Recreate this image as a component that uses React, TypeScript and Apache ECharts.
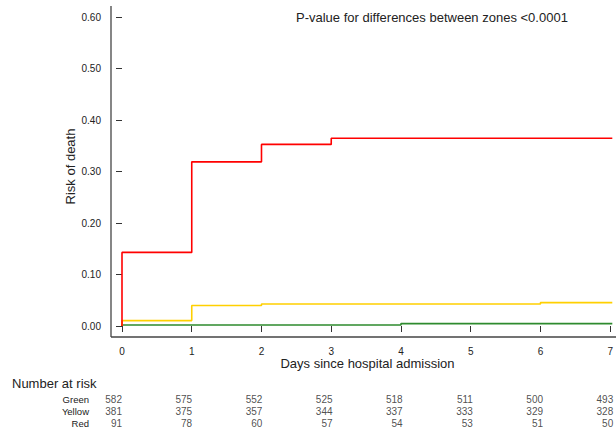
import React, { useEffect, useRef } from "react";
import * as echarts from "echarts";

// Kaplan-Meier style step curves (time in days, cumulative risk of death)
const redTimes = [0, 0, 1, 2, 3, 7.03];
const redRisk = [0, 0.143, 0.319, 0.353, 0.365, 0.365];
const yellowTimes = [0, 0, 1, 2, 6, 7.03];
const yellowRisk = [0, 0.0105, 0.0397, 0.0428, 0.0455, 0.0455];
const greenTimes = [0, 0, 4, 7.03];
const greenRisk = [0, 0.002, 0.0047, 0.0047];

// Number at risk table
const riskDays = [0, 1, 2, 3, 4, 5, 6, 7];
const riskGroups = ["Green", "Yellow", "Red"];
const atRiskGreen = [582, 575, 552, 525, 518, 511, 500, 493];
const atRiskYellow = [381, 375, 357, 344, 337, 333, 329, 328];
const atRiskRed = [91, 78, 60, 57, 54, 53, 51, 50];

const yTicks = ["0.00", "0.10", "0.20", "0.30", "0.40", "0.50", "0.60"];

const FONT = "Liberation Sans, Arial, Helvetica, sans-serif";
const TXT = "#222";
const AXIS_OFFSET = 11;

export default function App() {
  const ref = useRef<HTMLDivElement>(null);
  useEffect(() => {
    if (!ref.current) return;
    const chart = echarts.init(ref.current, undefined, { renderer: "svg" });
    const pair = (t: number[], v: number[]) => t.map((x, i) => [x, v[i]]);
    const rows = [atRiskGreen, atRiskYellow, atRiskRed];
    const tableSeries = rows.map((arr, r) => ({
      type: "scatter",
      xAxisIndex: 1,
      yAxisIndex: 1,
      symbolSize: 1,
      itemStyle: { color: "transparent" },
      silent: true,
      label: {
        show: true,
        position: "inside",
        align: "right",
        verticalAlign: "middle",
        fontSize: 10,
        fontFamily: FONT,
        color: TXT,
        formatter: (p: any) => String(p.value[2]),
      },
      data: riskDays.map((d, i) => [d, riskGroups[r], arr[i]]),
    }));
    const stepSeries = (name: string, t: number[], v: number[], color: string, z: number) => ({
      name,
      type: "line",
      step: "end",
      xAxisIndex: 0,
      yAxisIndex: 0,
      showSymbol: false,
      symbol: "none",
      z,
      lineStyle: { color, width: 1.6 },
      data: pair(t, v),
    });
    chart.setOption({
      animation: false,
      textStyle: { fontFamily: FONT },
      title: {
        text: "P-value for differences between zones <0.0001",
        left: 296,
        top: 11,
        padding: 0,
        textStyle: { fontSize: 13, fontWeight: "normal", color: TXT, fontFamily: FONT },
      },
      grid: [
        { left: 122, right: 0, top: 7, bottom: 107 },
        { left: 122, right: 0, top: 393, height: 36 },
      ],
      xAxis: [
        {
          type: "value",
          gridIndex: 0,
          min: 0,
          max: 7.04,
          interval: 1,
          offset: AXIS_OFFSET,
          axisLine: { show: false },
          axisTick: { show: true, length: 6, lineStyle: { color: "#333", width: 1 } },
          axisLabel: {
            fontSize: 10,
            color: TXT,
            margin: 9,
            showMaxLabel: false,
            formatter: (v: number) => (Number.isInteger(v) ? String(v) : ""),
          },
          splitLine: { show: false },
          name: "Days since hospital admission",
          nameLocation: "middle",
          nameGap: 20,
          nameMoveOverlap: false,
          nameTextStyle: { fontSize: 13, color: TXT, fontFamily: FONT },
        },
        {
          type: "value",
          gridIndex: 1,
          min: 0,
          max: 7.04,
          show: false,
        },
      ],
      yAxis: [
        {
          type: "value",
          gridIndex: 0,
          min: 0,
          max: 0.62,
          interval: 0.1,
          offset: AXIS_OFFSET,
          axisLine: { show: false },
          axisTick: { show: true, length: 6, lineStyle: { color: "#333", width: 1 } },
          axisLabel: {
            fontSize: 10,
            color: TXT,
            margin: 10,
            showMaxLabel: false,
            formatter: (v: number) => {
              const i = Math.round(v * 10);
              return Math.abs(v * 10 - i) < 1e-6 ? yTicks[i] : "";
            },
          },
          splitLine: { show: false },
          name: "Risk of death",
          nameLocation: "middle",
          nameGap: 34,
          nameRotate: 90,
          nameMoveOverlap: false,
          nameTextStyle: { fontSize: 13, color: TXT, fontFamily: FONT },
        },
        {
          type: "category",
          gridIndex: 1,
          data: riskGroups,
          inverse: true,
          axisLine: { show: false },
          axisTick: { show: false },
          axisLabel: { fontSize: 9.5, color: TXT, margin: 33, fontFamily: FONT, interval: 0 },
          splitLine: { show: false },
        },
      ],
      series: [
        stepSeries("Green", greenTimes, greenRisk, "#2e8b2e", 3),
        stepSeries("Yellow", yellowTimes, yellowRisk, "#ffd000", 4),
        stepSeries("Red", redTimes, redRisk, "#ff0000", 5),
        ...tableSeries,
      ],
    });
    // Axis frame lines (offset from the data region), positioned via the chart's own scales
    const origin = chart.convertToPixel({ gridIndex: 0 }, [0, 0]) as number[];
    const topPt = chart.convertToPixel({ gridIndex: 0 }, [0, 0.62]) as number[];
    const ax = origin[0] - AXIS_OFFSET;
    const ay = origin[1] + AXIS_OFFSET;
    const W = chart.getWidth();
    const lineStyle = { stroke: "#444", lineWidth: 1.3 };
    chart.setOption({
      graphic: [
        {
          type: "text",
          left: 12,
          top: 377,
          style: { text: "Number at risk", fontSize: 13, fill: TXT, fontFamily: FONT },
        },
        { type: "line", shape: { x1: ax, y1: topPt[1] - 1, x2: ax, y2: ay }, style: lineStyle, silent: true },
        { type: "line", shape: { x1: ax, y1: ay, x2: W, y2: ay }, style: lineStyle, silent: true },
      ],
    });
    return () => chart.dispose();
  }, []);
  return <div ref={ref} style={{ width: 616, height: 433, position: "absolute", left: 0, top: 0 }} />;
}
